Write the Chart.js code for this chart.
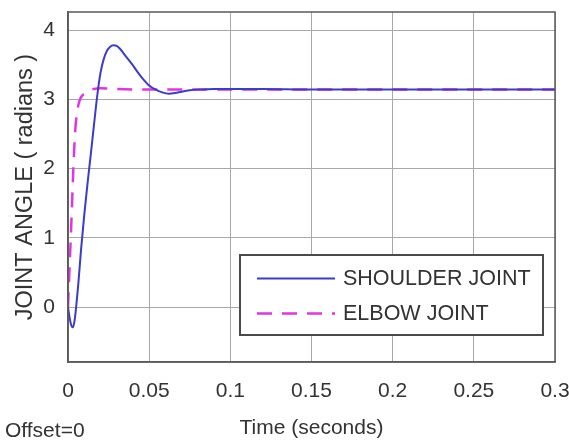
<!DOCTYPE html>
<html>
<head>
<meta charset="utf-8">
<script src="https://cdn.jsdelivr.net/npm/chart.js@4"></script>
<style>
  html, body { margin: 0; padding: 0; background: #fff; }
  #wrap { width: 569px; height: 441px; }
</style>
</head>
<body>
<div id="wrap"><canvas id="chart" width="569" height="441"></canvas></div>
<script>
// data
const shoulderTime  = [0, 0.001, 0.002, 0.003, 0.004, 0.005, 0.0065, 0.008, 0.010, 0.012, 0.014, 0.016, 0.018,
                       0.020, 0.022, 0.024, 0.026, 0.028, 0.030, 0.032, 0.034, 0.036, 0.038, 0.040, 0.043,
                       0.046, 0.050, 0.054, 0.058, 0.062, 0.066, 0.070, 0.075, 0.080, 0.090, 0.100, 0.120,
                       0.150, 0.200, 0.250, 0.300];
const shoulderAngle = [0, -0.15, -0.26, -0.29, -0.2, 0.0, 0.38, 0.82, 1.33, 1.78, 2.2, 2.63, 3.05,
                       3.38, 3.58, 3.7, 3.76, 3.78, 3.77, 3.73, 3.67, 3.61, 3.55, 3.49, 3.39,
                       3.3, 3.2, 3.14, 3.1, 3.08, 3.09, 3.11, 3.13, 3.14, 3.15, 3.15, 3.15,
                       3.14, 3.14, 3.14, 3.14];
const elbowTime  = [0, 0.0005, 0.001, 0.0017, 0.0025, 0.0033, 0.0043, 0.0055, 0.0074, 0.009, 0.0105,
                    0.013, 0.016, 0.020, 0.030, 0.050, 0.100, 0.200, 0.300];
const elbowAngle = [0, 0.3, 0.6, 1.0, 1.5, 2.0, 2.5, 2.8, 3.0, 3.06, 3.09,
                    3.13, 3.15, 3.16, 3.15, 3.14, 3.14, 3.14, 3.14];
const xTicks = [0, 0.05, 0.1, 0.15, 0.2, 0.25, 0.3];
const yTicks = [0, 1, 2, 3, 4];
const seriesNames = ['SHOULDER JOINT', 'ELBOW JOINT'];

const FONT = '"Liberation Sans", Arial, sans-serif';
const TXT = '#333';

const toPoints = (xs, ys) => xs.map((x, i) => ({ x: x, y: ys[i] }));

// no extra room for overhanging labels, the layout padding does it
const fixScale = size => s => {
    if (s.isHorizontal()) s.height = size; else s.width = size;
    s.paddingTop = s.paddingBottom = s.paddingLeft = s.paddingRight = 0;
};

// box, inside legend and footnote
const boxPlugin = {
    id: 'matlabBox',
    afterDraw(chart) {
        const { ctx, chartArea: a } = chart;
        ctx.save();
        ctx.strokeStyle = '#5a5a5a';
        ctx.lineWidth = 1.5;
        ctx.strokeRect(a.left, a.top, a.right - a.left, a.bottom - a.top);

        // legend inside plot, lower right
        const w = 303, h = 80;
        const bx = a.right - 12 - w, by = a.bottom - 27 - h;
        ctx.fillStyle = '#fff';
        ctx.fillRect(bx, by, w, h);
        ctx.strokeStyle = '#4a4a4a';
        ctx.lineWidth = 2;
        ctx.strokeRect(bx, by, w, h);
        chart.data.datasets.forEach((ds, i) => {
            const y = by + 23.5 + i * 35;
            ctx.beginPath();
            ctx.strokeStyle = ds.borderColor;
            ctx.lineWidth = ds.borderWidth;
            ctx.setLineDash(ds.borderDash || []);
            ctx.moveTo(bx + 17, y);
            ctx.lineTo(bx + 95, y);
            ctx.stroke();
            ctx.setLineDash([]);
            ctx.fillStyle = TXT;
            ctx.font = '21.5px ' + FONT;
            ctx.textBaseline = 'middle';
            ctx.textAlign = 'left';
            ctx.fillText(ds.label, bx + 103, y + 1);
        });

        ctx.fillStyle = TXT;
        ctx.font = '21px ' + FONT;
        ctx.textBaseline = 'middle';
        ctx.fillText('Offset=0', 5, chart.height - 10);
        ctx.restore();
    }
};

new Chart(document.getElementById('chart'), {
    type: 'line',
    data: {
        datasets: [
            {
                label: seriesNames[0],
                data: toPoints(shoulderTime, shoulderAngle),
                borderColor: '#3c3cc8',
                borderWidth: 2,
                pointRadius: 0,
                cubicInterpolationMode: 'monotone'
            },
            {
                label: seriesNames[1],
                data: toPoints(elbowTime, elbowAngle),
                borderColor: '#e035e0',
                borderWidth: 2.5,
                borderDash: [15, 10],
                pointRadius: 0,
                cubicInterpolationMode: 'monotone'
            }
        ]
    },
    options: {
        responsive: false,
        animation: false,
        layout: { padding: { top: 12, right: 14, left: 0, bottom: 0 } },
        plugins: {
            legend: { display: false },
            tooltip: { enabled: false }
        },
        scales: {
            x: {
                type: 'linear',
                min: 0,
                max: 0.3,
                afterBuildTicks: s => { s.ticks = xTicks.map(v => ({ value: v })); },
                afterFit: fixScale(79),
                ticks: {
                    padding: 17,
                    color: TXT,
                    font: { family: FONT, size: 21 },
                    maxRotation: 0,
                    callback: v => String(v)
                },
                grid: { color: '#a8a8a8', lineWidth: 1, drawTicks: false },
                border: { color: '#5a5a5a', width: 1.5 },
                title: {
                    display: true,
                    text: 'Time (seconds)',
                    color: TXT,
                    font: { family: FONT, size: 21 },
                    padding: { top: 0, bottom: 0 }
                }
            },
            y: {
                min: -0.79,
                max: 4.26,
                afterBuildTicks: s => { s.ticks = yTicks.map(v => ({ value: v })); },
                afterFit: fixScale(68),
                ticks: {
                    padding: 13,
                    color: TXT,
                    font: { family: FONT, size: 21 }
                },
                grid: { color: '#a8a8a8', lineWidth: 1, drawTicks: false },
                border: { color: '#5a5a5a', width: 1.5 },
                title: {
                    display: true,
                    text: 'JOINT ANGLE ( radians )',
                    color: TXT,
                    font: { family: FONT, size: 23.5 },
                    padding: { top: 11, bottom: 0 }
                }
            }
        }
    },
    plugins: [boxPlugin]
});
</script>
</body>
</html>
